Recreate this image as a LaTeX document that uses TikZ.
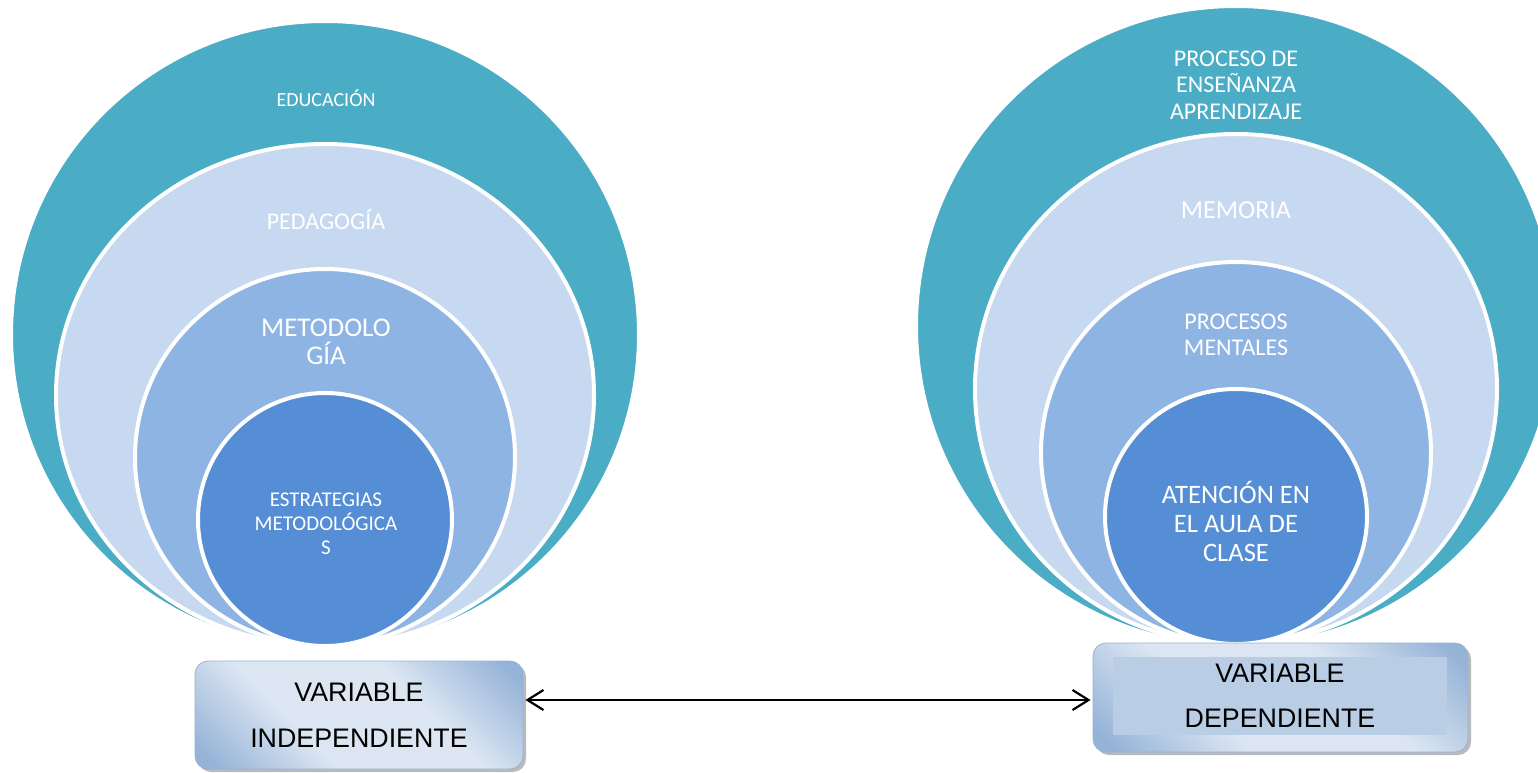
\documentclass[tikz,border=0pt]{standalone}
\usepackage{fontspec}
\setmainfont{Carlito}
\newfontfamily\arialfont{Liberation Sans}
\usepackage{xcolor}
\usepackage{tikz}
\usetikzlibrary{shapes.geometric,shadows,arrows.meta,positioning}

\definecolor{ringteal}{HTML}{4BACC6}
\definecolor{ringlight}{HTML}{C6D9F1}
\definecolor{ringmid}{HTML}{8EB4E3}
\definecolor{ringcore}{HTML}{558ED5}
\definecolor{boxlight}{HTML}{DCE6F2}
\definecolor{boxdark}{HTML}{95B3D7}
\definecolor{boxfill}{HTML}{B9CDE5}

\pgfdeclareverticalshading{varshade}{100bp}{color(0bp)=(boxdark); color(18bp)=(boxdark); color(38bp)=(boxlight); color(62bp)=(boxlight); color(82bp)=(boxdark); color(100bp)=(boxdark)}

\begin{document}
\begin{tikzpicture}[x=0.5pt,y=-0.5pt,semithick]
	\tikzstyle{ring}=[ellipse, draw=white, line width=2pt, inner sep=0pt]
	\tikzstyle{lbl}=[text=white, align=center, inner sep=0pt]
	\tikzstyle{varbox}=[rounded corners=6.5pt, draw=boxdark, thin, shading=varshade, shading angle=-45, drop shadow={shadow xshift=1.5pt, shadow yshift=-1.5pt, fill=black!45, opacity=0.6}, inner sep=0pt]
	\tikzstyle{vartxt}=[font=\arialfont\fontsize{13.4}{23}\selectfont, align=center, text=black]
	\tikzstyle{tip}=[{Straight Barb[length=8pt,width=10pt]}-{Straight Barb[length=8pt,width=10pt]}, line width=1.1pt]

	\clip (0,0) rectangle (1538,772);

	% independiente
	\node[ring, fill=ringteal, minimum width=314pt, minimum height=313.5pt] (edu) at (325,334.5) {};
	\node[ring, fill=ringlight, minimum width=269pt, minimum height=251pt] (ped) at (325,395) {};
	\node[ring, fill=ringmid, minimum width=190pt, minimum height=188.5pt] (met) at (325,457.5) {};
	\node[ring, fill=ringcore, minimum width=127pt, minimum height=126.5pt] (est) at (325,519.5) {};

	\node[lbl, font=\fontsize{10}{12}\selectfont] (tedu) at (326,98) {EDUCACIÓN};
	\node[lbl, font=\fontsize{12}{14}\selectfont] (tped) at (326,220) {PEDAGOGÍA};
	\node[lbl, font=\fontsize{13.5}{14}\selectfont] (tmet) at (326,342) {METODOLO\\GÍA};
	\node[lbl, font=\fontsize{10.5}{12}\selectfont] (test) at (326,524) {ESTRATEGIAS\\METODOLÓGICA\\S};

	% dependiente
	\node[ring, fill=ringteal, minimum width=320pt, minimum height=320pt] (pro) at (1236,326) {};
	\node[ring, fill=ringlight, minimum width=261pt, minimum height=255pt] (mem) at (1236,389) {};
	\node[ring, fill=ringmid, minimum width=195pt, minimum height=191pt] (pme) at (1236,453) {};
	\node[ring, fill=ringcore, minimum width=131pt, minimum height=127.5pt] (ate) at (1236,516.5) {};

	\node[lbl, font=\fontsize{12}{13.25}\selectfont] (tpro) at (1236,85) {PROCESO DE\\ENSEÑANZA\\APRENDIZAJE};
	\node[lbl, font=\fontsize{13}{14}\selectfont] (tmem) at (1236,210) {MEMORIA};
	\node[lbl, font=\fontsize{12}{13}\selectfont] (tpme) at (1236,335) {PROCESOS\\MENTALES};
	\node[lbl, font=\fontsize{13.3}{14.5}\selectfont] (tate) at (1236,521) {ATENCIÓN EN\\EL AULA DE\\CLASE};

	% variables
	\node[varbox, minimum width=164pt, minimum height=54pt, vartxt] (lvar) at (359,715) {VARIABLE\\INDEPENDIENTE};
	\node[varbox, minimum width=187.5pt, minimum height=54.5pt] (rvar) at (1280.5,697.5) {};
	\node[fill=boxfill, minimum width=167pt, minimum height=39pt, inner sep=0pt, vartxt, font=\arialfont\fontsize{13.4}{22.5}\selectfont] (rin) at (1280,696) {VARIABLE\\DEPENDIENTE};

	\draw[tip] ([yshift=7.5pt,xshift=1pt]lvar.east) -- ([yshift=-1.25pt,xshift=-1pt]rvar.west);
\end{tikzpicture}
\end{document}
